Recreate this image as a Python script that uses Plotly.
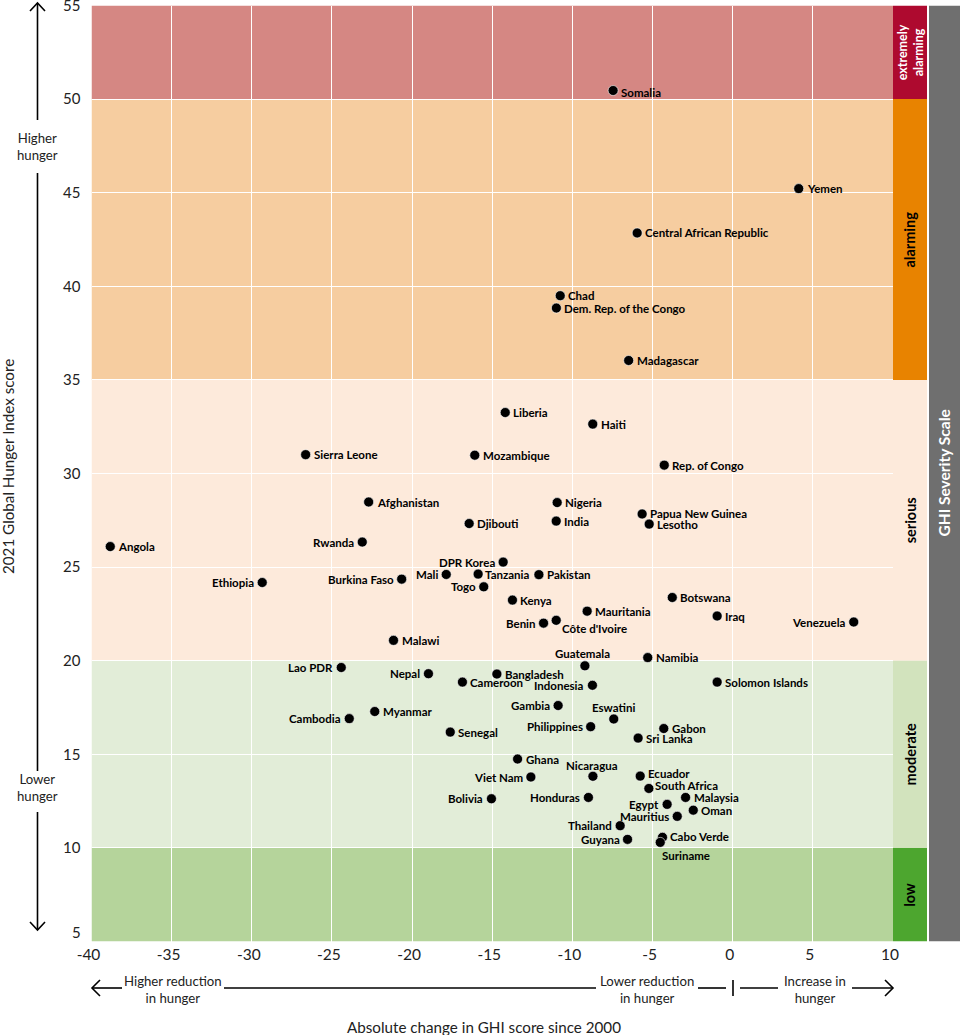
import plotly.graph_objects as go

FONT_FAMILY = 'Lato, sans-serif'
WIDTH, HEIGHT = 960, 1035

# ── Data ──────────────────────────────────────────────────────────────────────
COUNTRIES = [
    'Somalia', 'Yemen', 'Central African Republic', 'Chad', 'Dem. Rep. of the Congo',
    'Madagascar', 'Liberia', 'Haiti', 'Sierra Leone', 'Mozambique', 'Rep. of Congo',
    'Afghanistan', 'Nigeria', 'Papua New Guinea', 'Lesotho', 'Djibouti', 'India',
    'Angola', 'Rwanda', 'DPR Korea', 'Mali', 'Tanzania', 'Pakistan', 'Togo',
    'Burkina Faso', 'Ethiopia', 'Kenya', 'Mauritania', 'Benin', "Côte d'Ivoire",
    'Botswana', 'Iraq', 'Venezuela', 'Malawi', 'Guatemala', 'Namibia', 'Lao PDR',
    'Nepal', 'Bangladesh', 'Cameroon', 'Indonesia', 'Solomon Islands', 'Gambia',
    'Eswatini', 'Myanmar', 'Cambodia', 'Senegal', 'Philippines', 'Gabon', 'Sri Lanka',
    'Ghana', 'Viet Nam', 'Nicaragua', 'Ecuador', 'South Africa', 'Malaysia', 'Egypt',
    'Oman', 'Mauritius', 'Bolivia', 'Honduras', 'Thailand', 'Guyana', 'Cabo Verde',
    'Suriname',
]
GHI_CHANGE = [
    -7.46, 4.12, -5.96, -10.76, -11.0,
    -6.49, -14.19, -8.73, -26.64, -16.09, -4.27,
    -22.71, -10.95, -5.65, -5.21, -16.44, -11.01,
    -38.83, -23.11, -14.32, -17.87, -15.88, -12.09, -15.53,
    -20.65, -29.35, -13.74, -9.08, -11.8, -11.01,
    -3.77, -0.97, 7.55, -21.16, -9.22, -5.3, -24.42,
    -18.98, -14.71, -16.86, -8.75, -0.97, -10.89,
    -7.42, -22.33, -23.92, -17.62, -8.86, -4.3, -5.9,
    -13.42, -12.59, -8.72, -5.77, -5.23, -2.94, -4.09,
    -2.46, -3.46, -15.05, -9.0, -7.02, -6.56, -4.38,
    -4.52,
]
GHI_SCORE = [
    50.46, 45.22, 42.85, 39.5, 38.84,
    36.04, 33.26, 32.64, 31.01, 30.98, 30.45,
    28.48, 28.45, 27.84, 27.3, 27.33, 27.46,
    26.1, 26.34, 25.27, 24.61, 24.63, 24.6, 23.95,
    24.36, 24.18, 23.24, 22.65, 22.01, 22.16,
    23.38, 22.39, 22.07, 21.09, 19.73, 20.17, 19.64,
    19.31, 19.29, 18.86, 18.69, 18.86, 17.61,
    16.89, 17.29, 16.91, 16.19, 16.48, 16.38, 15.87,
    14.75, 13.79, 13.83, 13.84, 13.18, 12.7, 12.33,
    12.02, 11.69, 12.63, 12.7, 11.19, 10.46, 10.57,
    10.3,
]

X_TICKS = [-40, -35, -30, -25, -20, -15, -10, -5, 0, 5, 10]
X_TICK_LABELS = ['-40', '-35', '-30', '-25', '-20', '-15', '-10', '-5', '0', '5', '10']
Y_TICKS = [10, 15, 20, 25, 30, 35, 40, 45, 50, 55]

BAND_LOW = [50, 35, 20, 10, 5]
BAND_HIGH = [55, 50, 35, 20, 10]
BAND_NAMES = ['extremely<br>alarming', 'alarming', 'serious', 'moderate', 'low']
BAND_BG = ['#d58783', '#f6cda0', '#fdeadb', '#e2edd8', '#b5d49b']
BAND_SCALE = ['#ae0a2f', '#e88300', '#fdeadb', '#d2e3bd', '#4da62f']
BAND_TEXT = ['white', 'black', 'black', 'black', 'black']
BAND_TEXT_SIZE = [12.5, 14.5, 14.5, 14.5, 14.5]

# Label placement: everything not listed sits right of its dot
LEFT_LABELS = [
    'Rwanda', 'DPR Korea', 'Mali', 'Togo', 'Burkina Faso', 'Ethiopia', 'Benin', 'Venezuela',
    'Lao PDR', 'Nepal', 'Indonesia', 'Gambia', 'Cambodia', 'Philippines', 'Viet Nam', 'Egypt',
    'Mauritius', 'Bolivia', 'Honduras', 'Thailand', 'Guyana',
]
TOP_LABELS = ['Guatemala', 'Nicaragua', 'Eswatini']
NUDGE = {
    'Somalia': (0, 2), "Côte d'Ivoire": (-2, 8), 'Ecuador': (0, -3), 'South Africa': (-2, -3),
    'Suriname': (-6, 13), 'Guatemala': (-2, -12), 'Nicaragua': (-1, -11),
    'Eswatini': (0, -12), 'Cabo Verde': (0, -1), 'Tanzania': (-1, 0),
}


def px(x):
    return x / WIDTH


def py(y):
    return 1 - y / HEIGHT


def line_path(*points):
    # open polyline given in page pixels
    return 'M ' + ' L '.join(f'{px(x):.5f},{py(y):.5f}' for x, y in points)


# ── Figure ────────────────────────────────────────────────────────────────────
fig = go.Figure()

fig.add_trace(go.Scatter(
    x=GHI_CHANGE, y=GHI_SCORE,
    mode='markers',
    marker=dict(color='black', size=10, line=dict(color='white', width=0.6)),
    text=COUNTRIES,
    hovertemplate='%{text}<br>%{x}, %{y}<extra></extra>',
    showlegend=False,
))

shapes = []
annotations = []

# Severity bands behind the grid, and the scale column on the right
for i, name in enumerate(BAND_NAMES):
    low, high = BAND_LOW[i], BAND_HIGH[i]
    shapes.append(dict(type='rect', xref='x', yref='y', x0=-40, x1=10, y0=low, y1=high,
                       fillcolor=BAND_BG[i], line_width=0, layer='below'))
    shapes.append(dict(type='rect', xref='paper', yref='y', x0=px(893), x1=px(927), y0=low, y1=high,
                       fillcolor=BAND_SCALE[i], line_width=0, layer='below'))
    annotations.append(dict(xref='paper', yref='y', x=px(910), y=(low + high) / 2, text=name,
                            textangle=-90, showarrow=False, xanchor='center', yanchor='middle',
                            font=dict(size=BAND_TEXT_SIZE[i], color=BAND_TEXT[i],
                                      family=FONT_FAMILY, weight='bold')))

shapes.append(dict(type='rect', xref='paper', yref='y', x0=px(929), x1=1, y0=5, y1=55,
                   fillcolor='#6f6f6f', line_width=0, layer='below'))
annotations.append(dict(xref='paper', yref='y', x=px(944), y=30, text='GHI Severity Scale', textangle=-90,
                        showarrow=False, xanchor='center', yanchor='middle',
                        font=dict(size=15.5, color='white', family=FONT_FAMILY, weight='bold')))

# Country labels
for name, x, y in zip(COUNTRIES, GHI_CHANGE, GHI_SCORE):
    dx, dy = NUDGE.get(name, (0, 0))
    if name in TOP_LABELS:
        anchor, shift = 'center', 0
    elif name in LEFT_LABELS:
        anchor, shift = 'right', -6
    else:
        anchor, shift = 'left', 6
    annotations.append(dict(x=x, y=y, text=name, showarrow=False, xanchor=anchor, yanchor='middle',
                            xshift=shift + dx, yshift=-dy,
                            font=dict(size=11.5, color='black', family=FONT_FAMILY, weight='bold')))

# The lowest y label sits above its grid line in the reference
annotations.append(dict(xref='paper', yref='paper', x=px(83), y=py(932), text='5', showarrow=False,
                        xanchor='right', yanchor='middle', font=dict(size=15, color='#222222', family=FONT_FAMILY)))

# Axis titles
annotations.append(dict(xref='paper', yref='paper', x=px(484.5), y=py(1027),
                        text='Absolute change in GHI score since 2000', showarrow=False,
                        xanchor='center', yanchor='middle', font=dict(size=15.2, color='#222222', family=FONT_FAMILY)))
annotations.append(dict(xref='paper', yref='paper', x=px(8), y=py(467),
                        text='2021 Global Hunger Index score', showarrow=False, textangle=-90,
                        xanchor='center', yanchor='middle', font=dict(size=15.2, color='#222222', family=FONT_FAMILY)))

# Direction arrows
LINE = dict(color='black', width=1.6)
for pts in [
    [(37.5, 120), (37.5, 3)], [(30, 11), (37.5, 3), (45, 11)],
    [(37.5, 173), (37.5, 771)], [(37.5, 812), (37.5, 930)], [(30, 922), (37.5, 930), (45, 922)],
    [(122, 988), (92, 988)], [(100, 980), (92, 988), (100, 996)],
    [(224, 988), (596, 988)], [(698, 988), (726, 988)], [(740, 988), (778, 988)],
    [(852, 988), (893, 988)], [(885, 980), (893, 988), (885, 996)],
    [(733, 980), (733, 996)],
]:
    shapes.append(dict(type='path', xref='paper', yref='paper', path=line_path(*pts), line=LINE))

for x, y, label in [
    (37.5, 146, 'Higher<br>hunger'),
    (37.5, 787, 'Lower<br>hunger'),
    (173, 989, 'Higher reduction<br>in hunger'),
    (647, 989, 'Lower reduction<br>in hunger'),
    (815, 989, 'Increase in<br>hunger'),
]:
    annotations.append(dict(xref='paper', yref='paper', x=px(x), y=py(y), text=label, showarrow=False,
                            xanchor='center', yanchor='middle',
                            font=dict(size=13.2, color='#222222', family=FONT_FAMILY)))

fig.update_layout(
    width=WIDTH, height=HEIGHT,
    margin=dict(l=0, r=0, t=0, b=0, autoexpand=False),
    plot_bgcolor='white',
    paper_bgcolor='white',
    font=dict(family=FONT_FAMILY, size=15, color='#222222'),
    shapes=shapes,
    annotations=annotations,
)
fig.update_xaxes(
    domain=[px(91.5), px(893)],
    range=[-40, 10],
    tickvals=X_TICKS,
    ticktext=X_TICK_LABELS,
    ticklabelshift=-3,
    ticklabelstandoff=2,
    tickfont=dict(size=15.5),
    showgrid=True, gridcolor='white', gridwidth=1.2,
    zeroline=False, showline=False, ticks='',
)
fig.update_yaxes(
    domain=[py(941.6), py(5.5)],
    range=[5, 55],
    tickvals=Y_TICKS,
    tickfont=dict(size=15),
    ticklabelstandoff=10,
    ticklabeloverflow='allow',
    showgrid=True, gridcolor='white', gridwidth=1.2,
    zeroline=False, showline=False, ticks='',
)

# default page body has an 8px margin
fig.write_html('out.html', config=dict(displayModeBar=False),
               post_script="document.body.style.margin='0';Plotly.Plots.resize(document.getElementById('{plot_id}'));")
